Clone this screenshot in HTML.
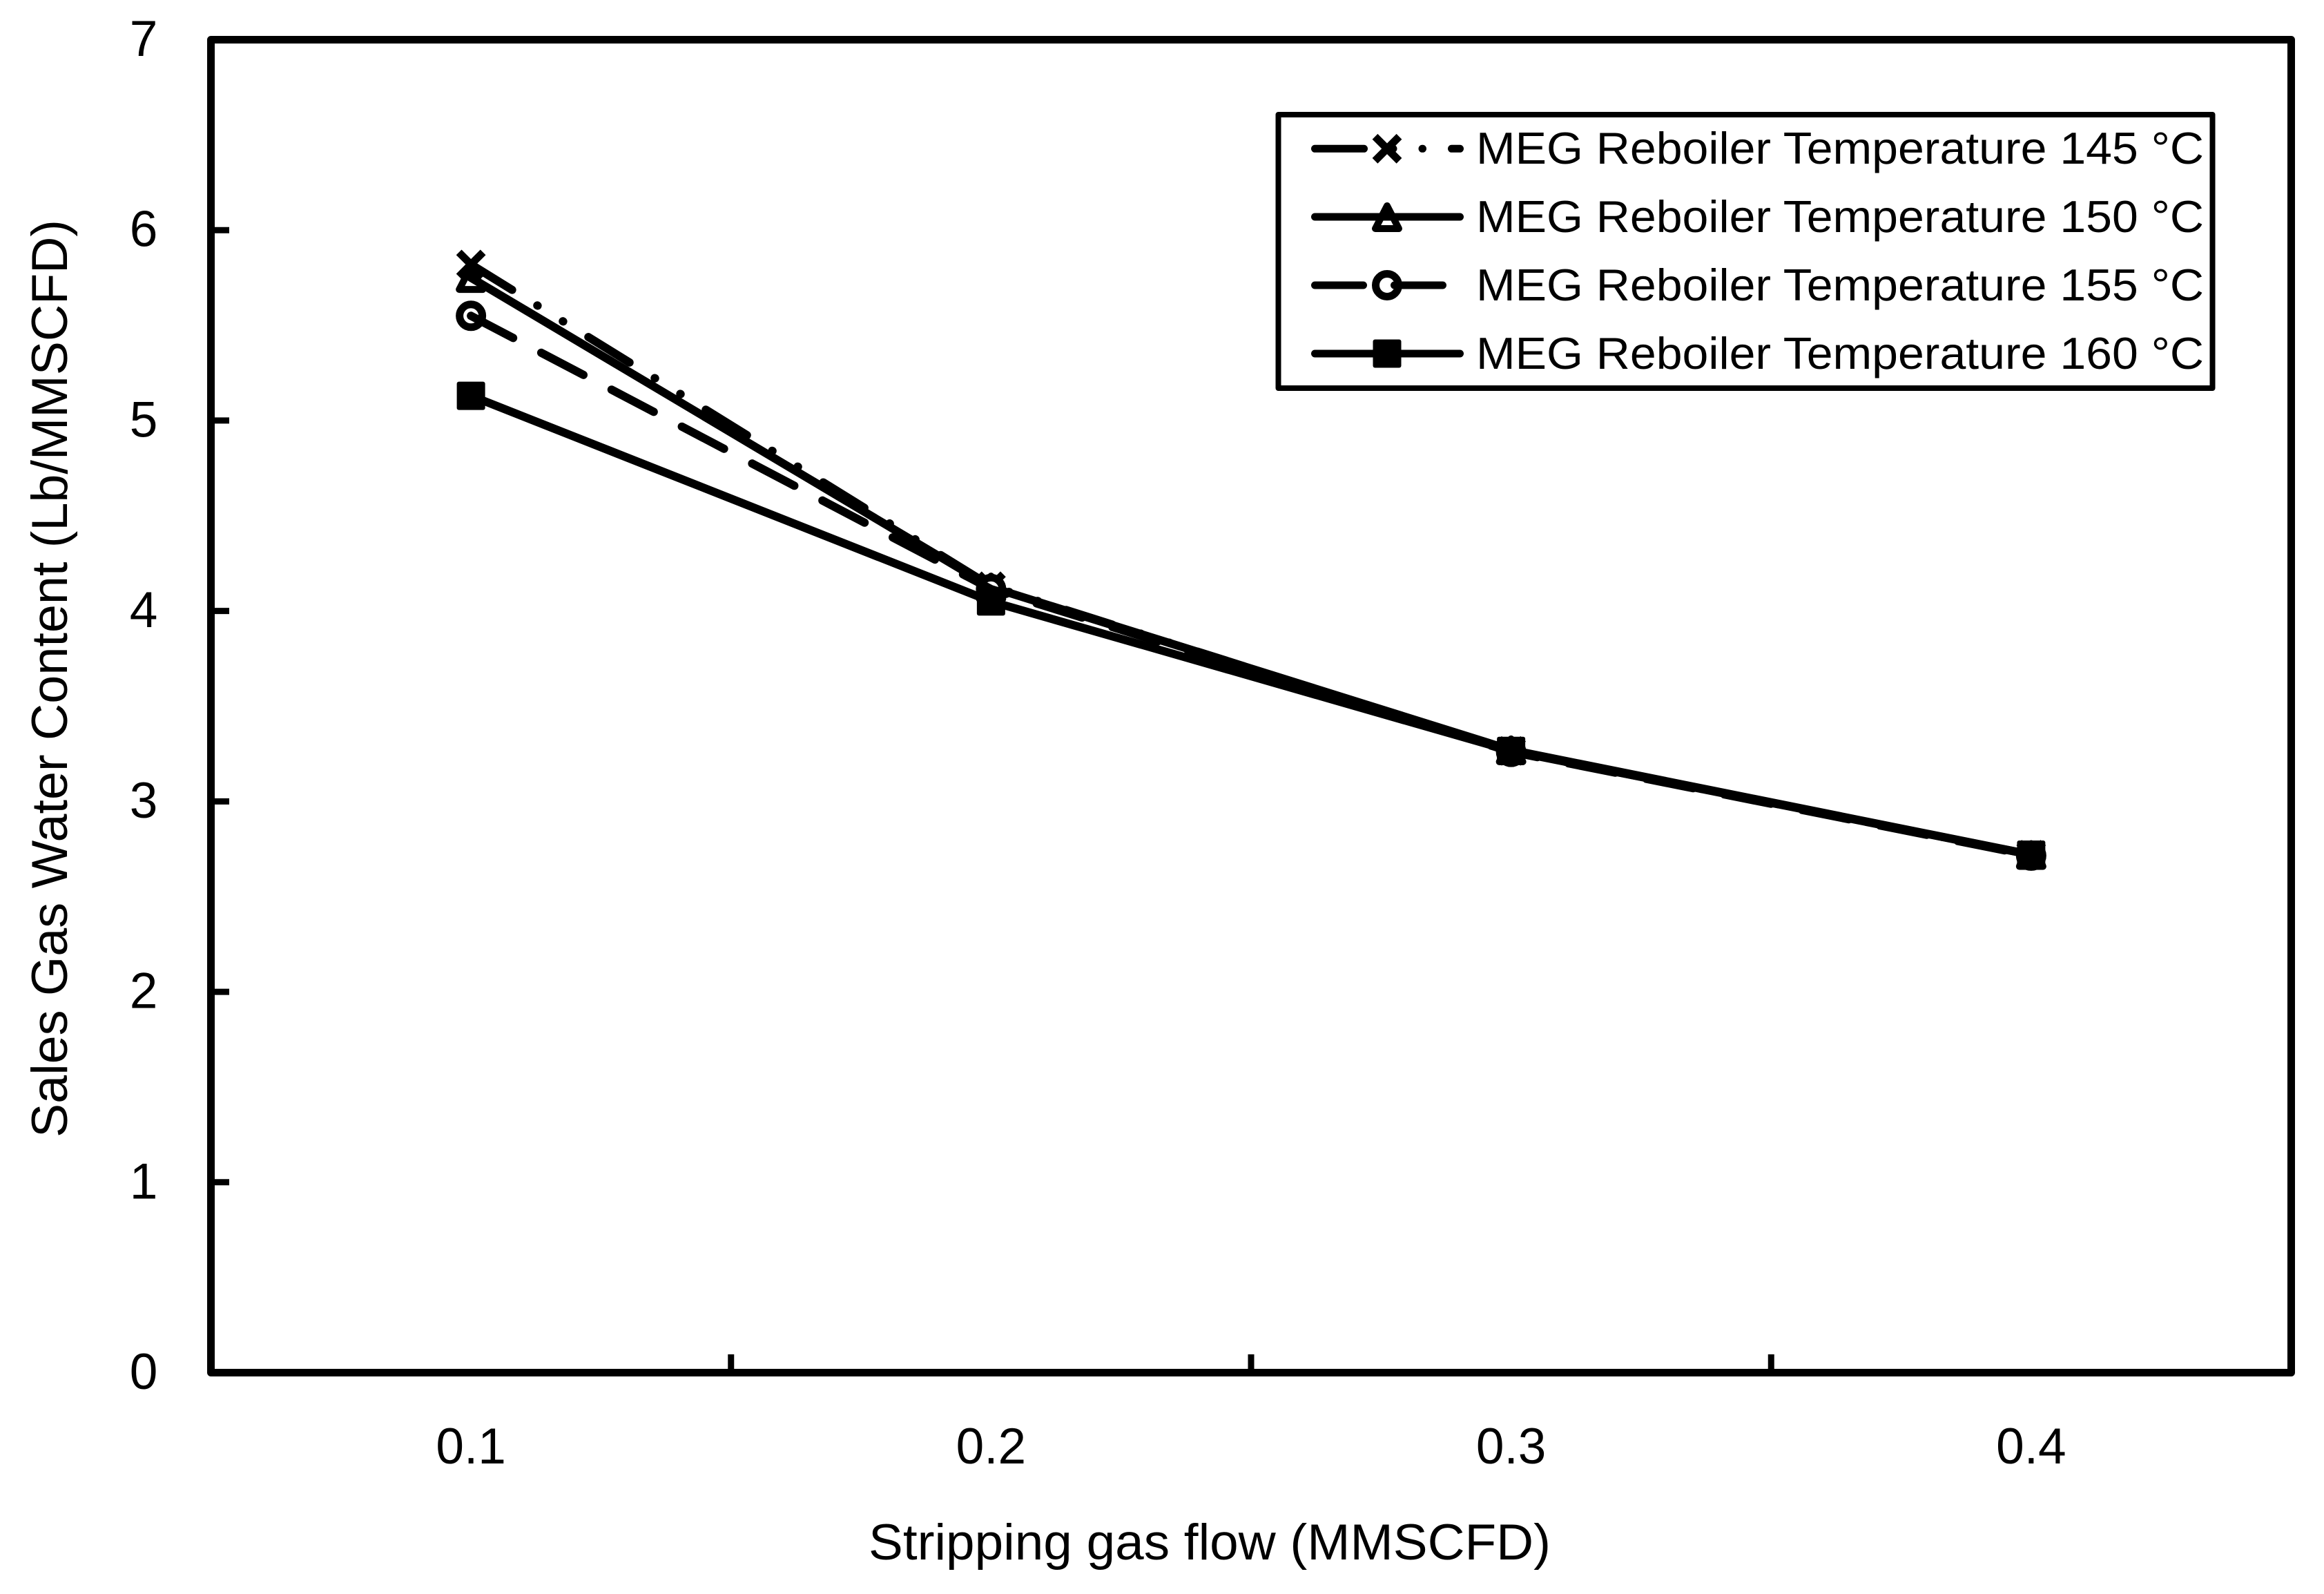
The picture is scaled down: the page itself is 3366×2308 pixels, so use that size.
<!DOCTYPE html>
<html lang="en">
<head>
<meta charset="utf-8">
<title>Sales Gas Water Content vs Stripping Gas Flow</title>
<style>
  html, body { margin: 0; padding: 0; background: #fff; }
  svg { display: block; }
  text { font-family: "Liberation Sans", sans-serif; fill: #000; }
</style>
</head>
<body>
<svg id="chart" xmlns="http://www.w3.org/2000/svg" width="3366" height="2308" viewBox="0 0 3366 2308">
  <rect x="0" y="0" width="3366" height="2308" fill="#fff"/>
  <g id="series-layer"></g>
  <g id="axis-layer"></g>
  <rect x="305.5" y="57.5" width="3013" height="1930" fill="none" stroke="#000" stroke-width="11" stroke-linejoin="round"/>
  <text transform="translate(97 1647) rotate(-90)" font-size="73" textLength="1329" lengthAdjust="spacingAndGlyphs">Sales Gas Water Content (Lb/MMSCFD)</text>
  <text x="1258" y="2258" font-size="73" textLength="988" lengthAdjust="spacingAndGlyphs">Stripping gas flow (MMSCFD)</text>
  <g>
    <rect x="1851.5" y="166" width="1353" height="396" fill="#fff" stroke="#000" stroke-width="8" stroke-linejoin="round"/>
    <g id="legend-samples"></g>
    <text x="2138" y="237" font-size="64.5" textLength="1054" lengthAdjust="spacingAndGlyphs">MEG Reboiler Temperature 145 °C</text>
    <text x="2138" y="336" font-size="64.5" textLength="1054" lengthAdjust="spacingAndGlyphs">MEG Reboiler Temperature 150 °C</text>
    <text x="2138" y="435" font-size="64.5" textLength="1054" lengthAdjust="spacingAndGlyphs">MEG Reboiler Temperature 155 °C</text>
    <text x="2138" y="534" font-size="64.5" textLength="1054" lengthAdjust="spacingAndGlyphs">MEG Reboiler Temperature 160 °C</text>
  </g>
</svg>
<script>
const categories = ['0.1', '0.2', '0.3', '0.4'];
const yTickValues = [0, 1, 2, 3, 4, 5, 6, 7];
const temp145 = [5.82, 4.13, 3.265, 2.72];
const temp150 = [5.75, 4.125, 3.27, 2.72];
const temp155 = [5.55, 4.115, 3.26, 2.715];
const temp160 = [5.13, 4.05, 3.265, 2.72];

const NS = 'http://www.w3.org/2000/svg';
const plot = { left: 305.5, right: 3318.5, top: 57.5, bottom: 1987.5 };
const yMax = 7;
const LINE_WIDTH = 12;
const LEGEND_LINE_WIDTH = 11;

function xScale(i) {
  return plot.left + (i + 0.5) * (plot.right - plot.left) / categories.length;
}
function xBoundary(i) {
  return plot.left + i * (plot.right - plot.left) / categories.length;
}
function yScale(v) {
  return plot.bottom - v * (plot.bottom - plot.top) / yMax;
}
function mk(tag, attrs, parent) {
  const el = document.createElementNS(NS, tag);
  for (const k in attrs) el.setAttribute(k, attrs[k]);
  parent.appendChild(el);
  return el;
}

function drawMarker(kind, cx, cy, parent, name) {
  let el;
  if (kind === 'x') {
    el = mk('path', {
      d: 'M' + (cx - 17.5) + ' ' + (cy - 17.5) + 'L' + (cx + 17.5) + ' ' + (cy + 17.5) +
         'M' + (cx - 17.5) + ' ' + (cy + 17.5) + 'L' + (cx + 17.5) + ' ' + (cy - 17.5),
      fill: 'none', stroke: '#000', 'stroke-width': 11
    }, parent);
  } else if (kind === 'triangle') {
    el = mk('path', {
      d: 'M' + cx + ' ' + (cy - 16) + 'L' + (cx + 17) + ' ' + (cy + 17) + 'L' + (cx - 17) + ' ' + (cy + 17) + 'Z',
      fill: '#fff', stroke: '#000', 'stroke-width': 10, 'stroke-linejoin': 'round'
    }, parent);
  } else if (kind === 'circle') {
    el = mk('circle', { cx: cx, cy: cy, r: 16.5, fill: '#fff', stroke: '#000', 'stroke-width': 11 }, parent);
  } else {
    el = mk('rect', { x: cx - 20.5, y: cy - 20.5, width: 41, height: 41, rx: 3, fill: '#000' }, parent);
  }
  
  
}

const seriesList = [
  { key: 'temp-145', values: temp145, marker: 'x', dash: '70 43 0.5 43 0.5 43', legendDash: '71 42 0.5 42 0.5 42', legendY: 215.3 },
  { key: 'temp-150', values: temp150, marker: 'triangle', dash: null, legendDash: null, legendY: 314 },
  { key: 'temp-155', values: temp155, marker: 'circle', dash: '69 46', legendDash: '70 45', legendY: 413 },
  { key: 'temp-160', values: temp160, marker: 'square', dash: null, legendDash: null, legendY: 512 }
];

const seriesLayer = document.getElementById('series-layer');
const legendSamples = document.getElementById('legend-samples');
const axisLayer = document.getElementById('axis-layer');

seriesList.forEach(function (s) {
  const group = mk('g', {}, seriesLayer);
  
  

  s.values.forEach(function (v, i) {
    drawMarker(s.marker, xScale(i), yScale(v), group, 'point-' + s.key + '-' + categories[i]);
  });

  const pts = s.values.map(function (v, i) { return xScale(i) + ',' + yScale(v); }).join(' ');
  const attrs = { points: pts, fill: 'none', stroke: '#000', 'stroke-width': LINE_WIDTH, 'stroke-linecap': 'round', 'stroke-linejoin': 'round' };
  if (s.dash) attrs['stroke-dasharray'] = s.dash;
  const line = mk('polyline', attrs, group);
  
  

  const sample = mk('g', {}, legendSamples);
  
  
  drawMarker(s.marker, 2009, s.legendY, sample, 'legend-marker-' + s.key);
  const lineAttrs = { x1: 1904.5, x2: 2114.5, y1: s.legendY, y2: s.legendY, stroke: '#000', 'stroke-width': LEGEND_LINE_WIDTH, 'stroke-linecap': 'round' };
  if (s.legendDash) lineAttrs['stroke-dasharray'] = s.legendDash;
  const sampleLine = mk('line', lineAttrs, sample);
  
  
});

yTickValues.forEach(function (v) {
  const y = yScale(v);
  if (v > 0 && v < yMax) {
    const t = mk('line', { x1: plot.left, x2: 332, y1: y, y2: y, stroke: '#000', 'stroke-width': 9 }, axisLayer);
    
    
  }
  const label = mk('text', { x: 208, y: y + 23.5, 'font-size': 73, 'text-anchor': 'middle' }, axisLayer);
  label.textContent = String(v);
  
  
});

categories.forEach(function (c, i) {
  if (i > 0) {
    const xb = xBoundary(i);
    const t = mk('line', { x1: xb, x2: xb, y1: plot.bottom, y2: 1961, stroke: '#000', 'stroke-width': 9 }, axisLayer);
    
    
  }
  const label = mk('text', { x: xScale(i), y: 2119, 'font-size': 73, 'text-anchor': 'middle' }, axisLayer);
  label.textContent = c;
  
  
});
</script>
</body>
</html>
